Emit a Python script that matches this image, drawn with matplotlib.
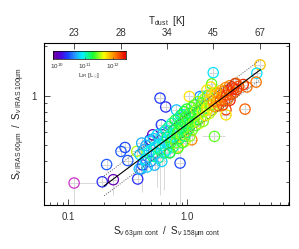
import numpy as np
import matplotlib
matplotlib.use("Agg")
import matplotlib.pyplot as plt
from matplotlib.colors import LinearSegmentedColormap, Normalize
from matplotlib.ticker import FixedLocator, NullFormatter, LogLocator

plt.rcParams['font.family'] = ['Liberation Sans', 'DejaVu Sans']
plt.rcParams['mathtext.fontset'] = 'custom'
plt.rcParams['mathtext.rm'] = 'Liberation Sans'
plt.rcParams['mathtext.it'] = 'Liberation Sans:italic'

# ---------------- data ----------------
# (S63cont/S158cont, S60/S100, log L_IR)
outliers = [
    (0.112, 0.296, 9.6), (0.193, 0.301, 10.3), (0.239, 0.310, 9.95),
    (0.210, 0.383, 10.45), (0.277, 0.460, 10.45), (0.300, 0.486, 10.4),
    (0.316, 0.405, 10.45), (0.383, 0.313, 10.3), (0.376, 0.460, 11.55),
    (0.395, 0.360, 10.75), (0.420, 0.381, 10.35), (0.414, 0.517, 10.7),
    (0.450, 0.410, 10.5), (0.486, 0.541, 10.3), (0.512, 0.580, 10.0),
    (0.590, 0.968, 10.35), (0.658, 0.855, 10.3), (0.605, 0.667, 10.35),
    (0.869, 0.391, 10.4), (0.716, 0.454, 10.7), (0.810, 0.820, 10.75),
    (0.900, 0.770, 10.8), (1.280, 0.990, 10.55), (0.840, 0.489, 11.8),
    (4.08, 1.54, 11.85), (3.83, 1.37, 10.85), (3.78, 1.21, 12.1),
    (3.16, 1.13, 12.1), (3.05, 0.83, 12.15), (2.55, 1.19, 12.1),
    (2.44, 1.10, 12.35), (2.28, 0.94, 12.35), (2.95, 1.17, 12.3),
    (2.11, 0.823, 12.25), (2.11, 0.767, 11.75), (1.77, 1.04, 12.35),
    (1.98, 0.88, 12.3), (1.65, 1.38, 10.85), (1.57, 1.13, 11.75),
    (1.60, 1.18, 11.4), (1.35, 0.98, 10.85), (1.04, 0.99, 11.75),
    (1.46, 1.08, 11.75), (1.69, 0.567, 11.4), (1.09, 0.541, 12.05),
    (0.956, 0.529, 11.6),
]
band = [
    (0.40, 0.44, 10.8), (0.41, 0.36, 10.6), (0.43, 0.47, 10.65), (0.44, 0.41, 10.9),
    (0.45, 0.50, 10.7), (0.46, 0.37, 10.8), (0.47, 0.45, 11.0), (0.48, 0.53, 10.75),
    (0.49, 0.40, 10.6), (0.50, 0.47, 10.9), (0.51, 0.43, 11.1), (0.52, 0.55, 10.8),
    (0.53, 0.38, 10.7), (0.54, 0.49, 10.95), (0.55, 0.45, 10.65), (0.56, 0.58, 10.85),
    (0.57, 0.42, 11.05), (0.58, 0.51, 10.75), (0.59, 0.47, 11.15), (0.60, 0.56, 10.9),
    (0.61, 0.40, 10.8), (0.62, 0.50, 11.0), (0.63, 0.60, 10.7), (0.64, 0.45, 11.1),
    (0.65, 0.53, 10.85),
    (0.66, 0.62, 11.0), (0.67, 0.47, 10.9), (0.68, 0.56, 11.2), (0.69, 0.51, 10.8),
    (0.70, 0.65, 11.1), (0.71, 0.45, 11.3), (0.72, 0.58, 10.95), (0.73, 0.52, 11.25),
    (0.74, 0.68, 11.0), (0.75, 0.55, 11.35), (0.76, 0.49, 11.1), (0.77, 0.62, 11.2),
    (0.78, 0.57, 10.9), (0.79, 0.71, 11.3), (0.80, 0.52, 11.45), (0.81, 0.64, 11.05),
    (0.82, 0.59, 11.25), (0.83, 0.48, 11.35), (0.84, 0.73, 11.15), (0.85, 0.61, 11.4),
    (0.86, 0.55, 11.2), (0.87, 0.67, 11.3), (0.88, 0.76, 11.1), (0.89, 0.58, 11.5),
    (0.90, 0.64, 11.25), (0.91, 0.52, 11.35), (0.92, 0.70, 11.2), (0.93, 0.62, 11.4),
    (0.94, 0.80, 11.3), (0.95, 0.57, 11.15),
    (0.96, 0.68, 11.23), (0.97, 0.74, 11.33), (0.98, 0.60, 11.13), (0.99, 0.83, 11.28),
    (1.00, 0.66, 11.18), (1.01, 0.71, 11.38), (1.03, 0.63, 11.23), (1.04, 0.78, 11.33),
    (1.05, 0.57, 11.48), (1.06, 0.69, 11.18), (1.08, 0.85, 11.38), (1.09, 0.74, 11.28),
    (1.10, 0.62, 11.43), (1.12, 0.79, 11.23), (1.13, 0.69, 11.48), (1.15, 0.88, 11.33),
    (1.16, 0.75, 11.18), (1.18, 0.66, 11.38), (1.19, 0.82, 11.53), (1.21, 0.72, 11.28),
    (1.23, 0.92, 11.43), (1.24, 0.78, 11.33), (1.26, 0.68, 11.58), (1.28, 0.85, 11.38),
    (1.30, 0.74, 11.48),
    (1.32, 0.90, 11.35), (1.34, 0.80, 11.6), (1.36, 0.70, 11.45), (1.38, 0.95, 11.55),
    (1.40, 0.84, 11.3), (1.42, 0.76, 11.7), (1.44, 0.91, 11.5), (1.46, 0.82, 11.8),
    (1.48, 1.00, 11.4), (1.50, 0.87, 11.65), (1.53, 0.78, 11.55), (1.55, 0.95, 11.75),
    (1.58, 0.88, 11.45), (1.60, 1.02, 11.85), (1.62, 0.82, 11.6), (1.65, 0.93, 12.0),
    (1.68, 0.99, 11.8), (1.70, 0.86, 11.95), (1.73, 1.05, 11.75), (1.76, 0.92, 12.05),
    (1.80, 0.97, 11.85), (1.83, 0.87, 12.1), (1.86, 1.03, 11.95), (1.90, 0.94, 12.15),
    (1.94, 1.08, 11.9), (1.98, 0.99, 12.1),
    (2.02, 1.06, 12.05), (2.06, 0.93, 12.2), (2.10, 1.12, 12.0), (2.14, 1.01, 12.25),
    (2.18, 0.95, 12.1), (2.22, 1.08, 12.3), (2.27, 1.15, 12.05), (2.32, 1.02, 12.2),
    (2.38, 1.13, 12.35), (2.45, 1.04, 12.15), (2.52, 1.18, 12.25), (2.60, 1.09, 12.3),
    (2.70, 1.14, 12.2),
]
ratio_cont = [p[0] for p in outliers + band]
ratio_iras = [p[1] for p in outliers + band]
log_lir = [p[2] for p in outliers + band]

# long error bars: (x, y, xlo, xhi, ylo, yhi)
long_err = [
    (0.112, 0.296, 0.0, 0.06, 0.09, 0.0),
    (0.869, 0.391, 0.0, 0.0, 0.17, 0.12),
    (0.59, 0.47, 0.0, 0.0, 0.22, 0.10),
    (0.56, 0.58, 0.0, 0.0, 0.30, 0.10),
    (0.42, 0.38, 0.0, 0.0, 0.12, 0.10),
    (0.64, 0.45, 0.0, 0.0, 0.18, 0.0),
    (1.69, 0.567, 0.35, 0.4, 0.0, 0.0),
    (1.00, 0.66, 0.0, 0.0, 0.15, 0.0),
    (0.48, 0.53, 0.0, 0.0, 0.15, 0.0),
    (0.239, 0.310, 0.0, 0.0, 0.06, 0.0),
]
frac_err = 0.10

fit_x = [0.2, 4.1]
fit_norm, fit_slope, fit_scatter = 0.674, 0.536, 0.06

tdust_labels = ['23', '28', '34', '45', '67']
tdust_pos = [0.112, 0.276, 0.671, 1.65, 4.08]

# ---------------- figure ----------------
fig = plt.figure(figsize=(2.99, 2.49), dpi=100)
ax = fig.add_axes([0.147, 0.177, 0.820, 0.652])

cmap = LinearSegmentedColormap.from_list('idlrainbow', [
    (0.00, (0.45, 0.0, 0.60)),
    (0.10, (0.32, 0.0, 0.85)),
    (0.20, (0.10, 0.25, 1.0)),
    (0.30, (0.15, 0.60, 1.0)),
    (0.40, (0.0, 0.95, 1.0)),
    (0.55, (0.1, 1.0, 0.2)),
    (0.70, (1.0, 1.0, 0.0)),
    (0.85, (1.0, 0.5, 0.0)),
    (1.00, (0.9, 0.0, 0.0)),
])
cmap.set_under('#cc33cc')
norm = Normalize(9.85, 12.45)

xs = np.array(ratio_cont)
ys = np.array(ratio_iras)
ax.errorbar(xs, ys, xerr=xs * frac_err, yerr=ys * frac_err * 0.8, fmt='none',
            ecolor='#d4d4d4', elinewidth=0.7, zorder=1)
for (x0, y0, xl, xh, yl, yh) in long_err:
    ax.errorbar([x0], [y0], xerr=[[xl], [xh]], yerr=[[yl], [yh]], fmt='none',
                ecolor='#d8d8d8', elinewidth=0.7, zorder=1)

ax.scatter(xs, ys, s=55, facecolors='none', edgecolors=cmap(norm(np.array(log_lir))),
           linewidths=0.9, zorder=2)

fx = np.array(fit_x)
fy = fit_norm * fx ** fit_slope
ax.plot(fx, fy, color='black', lw=0.8, zorder=3)
ax.plot(fx, fy * 10 ** fit_scatter, color='#555555', lw=0.7, ls=(0, (1, 1.5)), zorder=3)
ax.plot(fx, fy * 10 ** (-fit_scatter), color='#555555', lw=0.7, ls=(0, (1, 1.5)), zorder=3)

ax.set_xscale('log')
ax.set_yscale('log')
ax.set_xlim(0.0625, 7.16)
ax.set_ylim(0.218, 2.1)

ax.xaxis.set_major_locator(FixedLocator([0.1, 1.0]))
ax.set_xticklabels(['0.1', '1.0'])
ax.xaxis.set_minor_locator(LogLocator(base=10, subs=np.arange(2, 10)))
ax.xaxis.set_minor_formatter(NullFormatter())
ax.yaxis.set_major_locator(FixedLocator([1.0]))
ax.set_yticklabels(['1'])
ax.yaxis.set_minor_locator(LogLocator(base=10, subs=np.arange(2, 10)))
ax.yaxis.set_minor_formatter(NullFormatter())

ax.tick_params(which='both', direction='in', top=False, right=True, labelsize=7,
               colors='#333333', width=0.6)
ax.tick_params(which='major', length=4.5, pad=5)
ax.tick_params(which='minor', length=2.2)
for s in ax.spines.values():
    s.set_linewidth(0.7)
    s.set_color('#333333')

ax.set_xlabel(r'S$_{\nu\ \mathrm{63\mu m\ cont}}$  /  S$_{\nu\ \mathrm{158\mu m\ cont}}$',
              fontsize=7, labelpad=2, color='#222222')
ax.set_ylabel(r'S$_{\nu\ \mathrm{IRAS\ 60\mu m}}$  /  S$_{\nu\ \mathrm{IRAS\ 100\mu m}}$',
              fontsize=7, labelpad=3, color='#222222')

ax2 = ax.twiny()
ax2.set_xscale('log')
ax2.set_xlim(ax.get_xlim())
ax2.xaxis.set_major_locator(FixedLocator(tdust_pos))
ax2.set_xticklabels(tdust_labels)
ax2.xaxis.set_minor_locator(FixedLocator([]))
ax2.tick_params(which='major', direction='in', length=4.5, labelsize=7, pad=3,
                colors='#333333', width=0.6)
ax2.set_xlabel(r'T$_{\mathrm{dust}}$  [K]', fontsize=7, labelpad=3, color='#222222')

# colorbar inset
cax = fig.add_axes([0.176, 0.762, 0.244, 0.034])
grad = np.linspace(9.85, 12.45, 256).reshape(1, -1)
cax.imshow(grad, aspect='auto', cmap=cmap, norm=norm, extent=[9.85, 12.45, 0, 1])
cax.set_yticks([])
cax.set_xticks([10, 11, 12])
cax.set_xticklabels([r'10$^{10}$', r'10$^{11}$', r'10$^{12}$'])
cax.tick_params(axis='x', direction='in', length=1.5, labelsize=4.5, pad=1.5,
                colors='#333333', width=0.4)
for s in cax.spines.values():
    s.set_linewidth(0.5)
cax.set_xlabel(r'L$_{\mathrm{IR}}$ [L$_{\odot}$]', fontsize=4.5, labelpad=1, color='#333333')

fig.savefig('out.png', dpi=100)
